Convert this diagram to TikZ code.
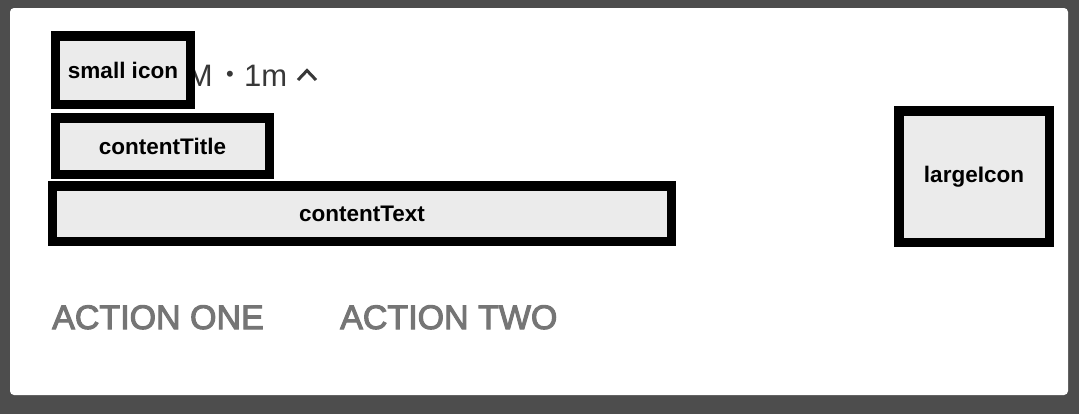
\documentclass[tikz,border=0pt]{standalone}
\usepackage{fontspec}
\setmainfont{Liberation Sans}
\newfontfamily\actionfont[FakeBold=3]{Liberation Sans}
\definecolor{bgdark}{HTML}{4D4D4D}
\definecolor{boxfill}{HTML}{EBEBEB}
\definecolor{metatext}{HTML}{383838}
\definecolor{actiontext}{HTML}{757575}
\tikzset{
  phbox/.style={draw=black, fill=boxfill, line width=9.5bp, rectangle, inner sep=0pt,
    font=\bfseries\fontsize{22.5bp}{27bp}\selectfont, text=black},
  metalabel/.style={inner sep=0pt, text=metatext, font=\fontsize{31bp}{36bp}\selectfont},
  actionlabel/.style={inner sep=0pt, text=actiontext, font=\actionfont\fontsize{34bp}{40bp}\selectfont},
}
\begin{document}
\begin{tikzpicture}[x=1bp,y=-1bp]
\useasboundingbox (0,0) rectangle (1079,414);
\fill[bgdark] (0,0) rectangle (1079,414);
\fill[white, rounded corners=4bp] (10,8) rectangle (1068,395);
% header text (partly hidden behind small icon)
\node[metalabel, anchor=base east] (hm) at (213,86) {M};
\node[metalabel, anchor=center, font=\fontsize{22bp}{26bp}\selectfont] (hdot) at (230,76) {•};
\node[metalabel, anchor=base west] (htime) at (244,86) {1m};
\coordinate (cl) at (298,80);
\coordinate (ct) at (307,70.5);
\coordinate (cr) at (316,80);
\draw[metatext, line width=3bp] (cl) -- (ct) -- (cr);
% placeholder boxes
\node[phbox, minimum width=134.5bp, minimum height=68.5bp] (small) at (123,70) {small icon};
\node[phbox, minimum width=213.5bp, minimum height=56.5bp] (title) at (162.5,146) {contentTitle};
\node[phbox, minimum width=618.5bp, minimum height=55.5bp] (text) at (362,213.5) {contentText};
\node[phbox, minimum width=150.5bp, minimum height=131.5bp] (large) at (974,176.5) {\raisebox{-2bp}{largeIcon}};
% actions
\node[actionlabel, anchor=base west] (a1) at (52,329) {ACTION ONE};
\node[actionlabel, anchor=base west] (a2) at (340,329) {ACTION TWO};
\end{tikzpicture}
\end{document}
